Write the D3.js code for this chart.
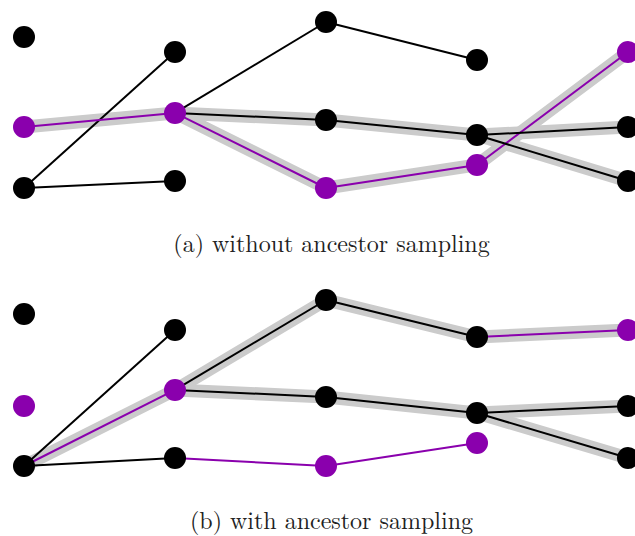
<!DOCTYPE html>
<html>
<head>
<meta charset="utf-8">
<script src="https://cdn.jsdelivr.net/npm/d3@7"></script>
<style>
  html, body { margin: 0; padding: 0; background: #fff; }
  svg { display: block; }
</style>
</head>
<body>
<svg id="chart" width="635" height="536"></svg>
<script>
// Particle states at each time step (three particles per step), bottom of panel = 0
const steps = [0, 1, 2, 3, 4];

const statesA = [
  [9.10, 3.67, 0.00],
  [8.19, 4.52, 0.42],
  [10.0, 4.10, 0.00],
  [7.71, 3.19, 1.39],
  [8.19, 3.67, 0.42]
];
// ancestor index (in previous step) of each particle, steps 1..4
const ancestorsA = [
  [2, 1, 2],
  [1, 1, 1],
  [0, 1, 2],
  [2, 1, 1]
];

const statesB = [
  [9.16, 3.61, 0.00],
  [8.19, 4.58, 0.48],
  [10.0, 4.16, 0.00],
  [7.77, 3.19, 1.39],
  [8.19, 3.61, 0.48]
];
const ancestorsB = [
  [2, 2, 2],
  [1, 1, 2],
  [0, 1, 2],
  [0, 1, 1]
];

// index of the reference trajectory particle at each step
const referenceA = [1, 1, 2, 2, 0];
const referenceB = [1, 1, 2, 2, 0];

const captions = ["(a) without ancestor sampling", "(b) with ancestor sampling"];

const purple = "#8a00ad";
const grey = "#cbcbcb";

const svg = d3.select("#chart");

const x = d3.scaleLinear().domain([0, 4]).range([24, 628]);

const panels = [
  { states: statesA, ancestors: ancestorsA, reference: referenceA, top: 22, bottom: 188, caption: captions[0], captionY: 252 },
  { states: statesB, ancestors: ancestorsB, reference: referenceB, top: 300, bottom: 466, caption: captions[1], captionY: 529 }
];

panels.forEach(p => {
  const y = d3.scaleLinear().domain([0, 10]).range([p.bottom, p.top]);
  const g = svg.append("g");

  // edges from each particle back to its ancestor
  const edges = [];
  p.ancestors.forEach((anc, k) => {
    const t = k + 1;
    anc.forEach((a, i) => {
      edges.push({ t, child: i, parent: a, survives: false,
                   ref: p.reference[t] === i });
    });
  });

  // mark lineages of the final particles
  const last = steps.length - 1;
  p.states[last].forEach((_, i) => {
    let idx = i;
    for (let t = last; t >= 1; t--) {
      const e = edges.find(e => e.t === t && e.child === idx);
      e.survives = true;
      idx = e.parent;
    }
  });

  const seg = e => ({
    x1: x(e.t - 1), y1: y(p.states[e.t - 1][e.parent]),
    x2: x(e.t),     y2: y(p.states[e.t][e.child])
  });

  g.append("g").selectAll("line")
    .data(edges.filter(e => e.survives))
    .join("line")
    .each(function (e) { const s = seg(e); d3.select(this).attr("x1", s.x1).attr("y1", s.y1).attr("x2", s.x2).attr("y2", s.y2); })
    .attr("stroke", grey)
    .attr("stroke-width", 13)
    .attr("stroke-linecap", "round");

  g.append("g").selectAll("line")
    .data(edges)
    .join("line")
    .each(function (e) { const s = seg(e); d3.select(this).attr("x1", s.x1).attr("y1", s.y1).attr("x2", s.x2).attr("y2", s.y2); })
    .attr("stroke", e => e.ref ? purple : "#000")
    .attr("stroke-width", 2);

  const nodes = [];
  p.states.forEach((col, t) => col.forEach((v, i) => nodes.push({ t, v, ref: p.reference[t] === i })));

  g.append("g").selectAll("circle")
    .data(nodes)
    .join("circle")
    .attr("cx", d => x(d.t))
    .attr("cy", d => y(d.v))
    .attr("r", 11)
    .attr("fill", d => d.ref ? purple : "#000");

  g.append("text")
    .attr("x", 331.5)
    .attr("y", p.captionY)
    .attr("text-anchor", "middle")
    .attr("font-family", "'Latin Modern Roman', 'CMU Serif', 'DejaVu Serif', serif")
    .attr("font-size", 24)
    .attr("fill", "#222")
    .text(p.caption);
});
</script>
</body>
</html>
